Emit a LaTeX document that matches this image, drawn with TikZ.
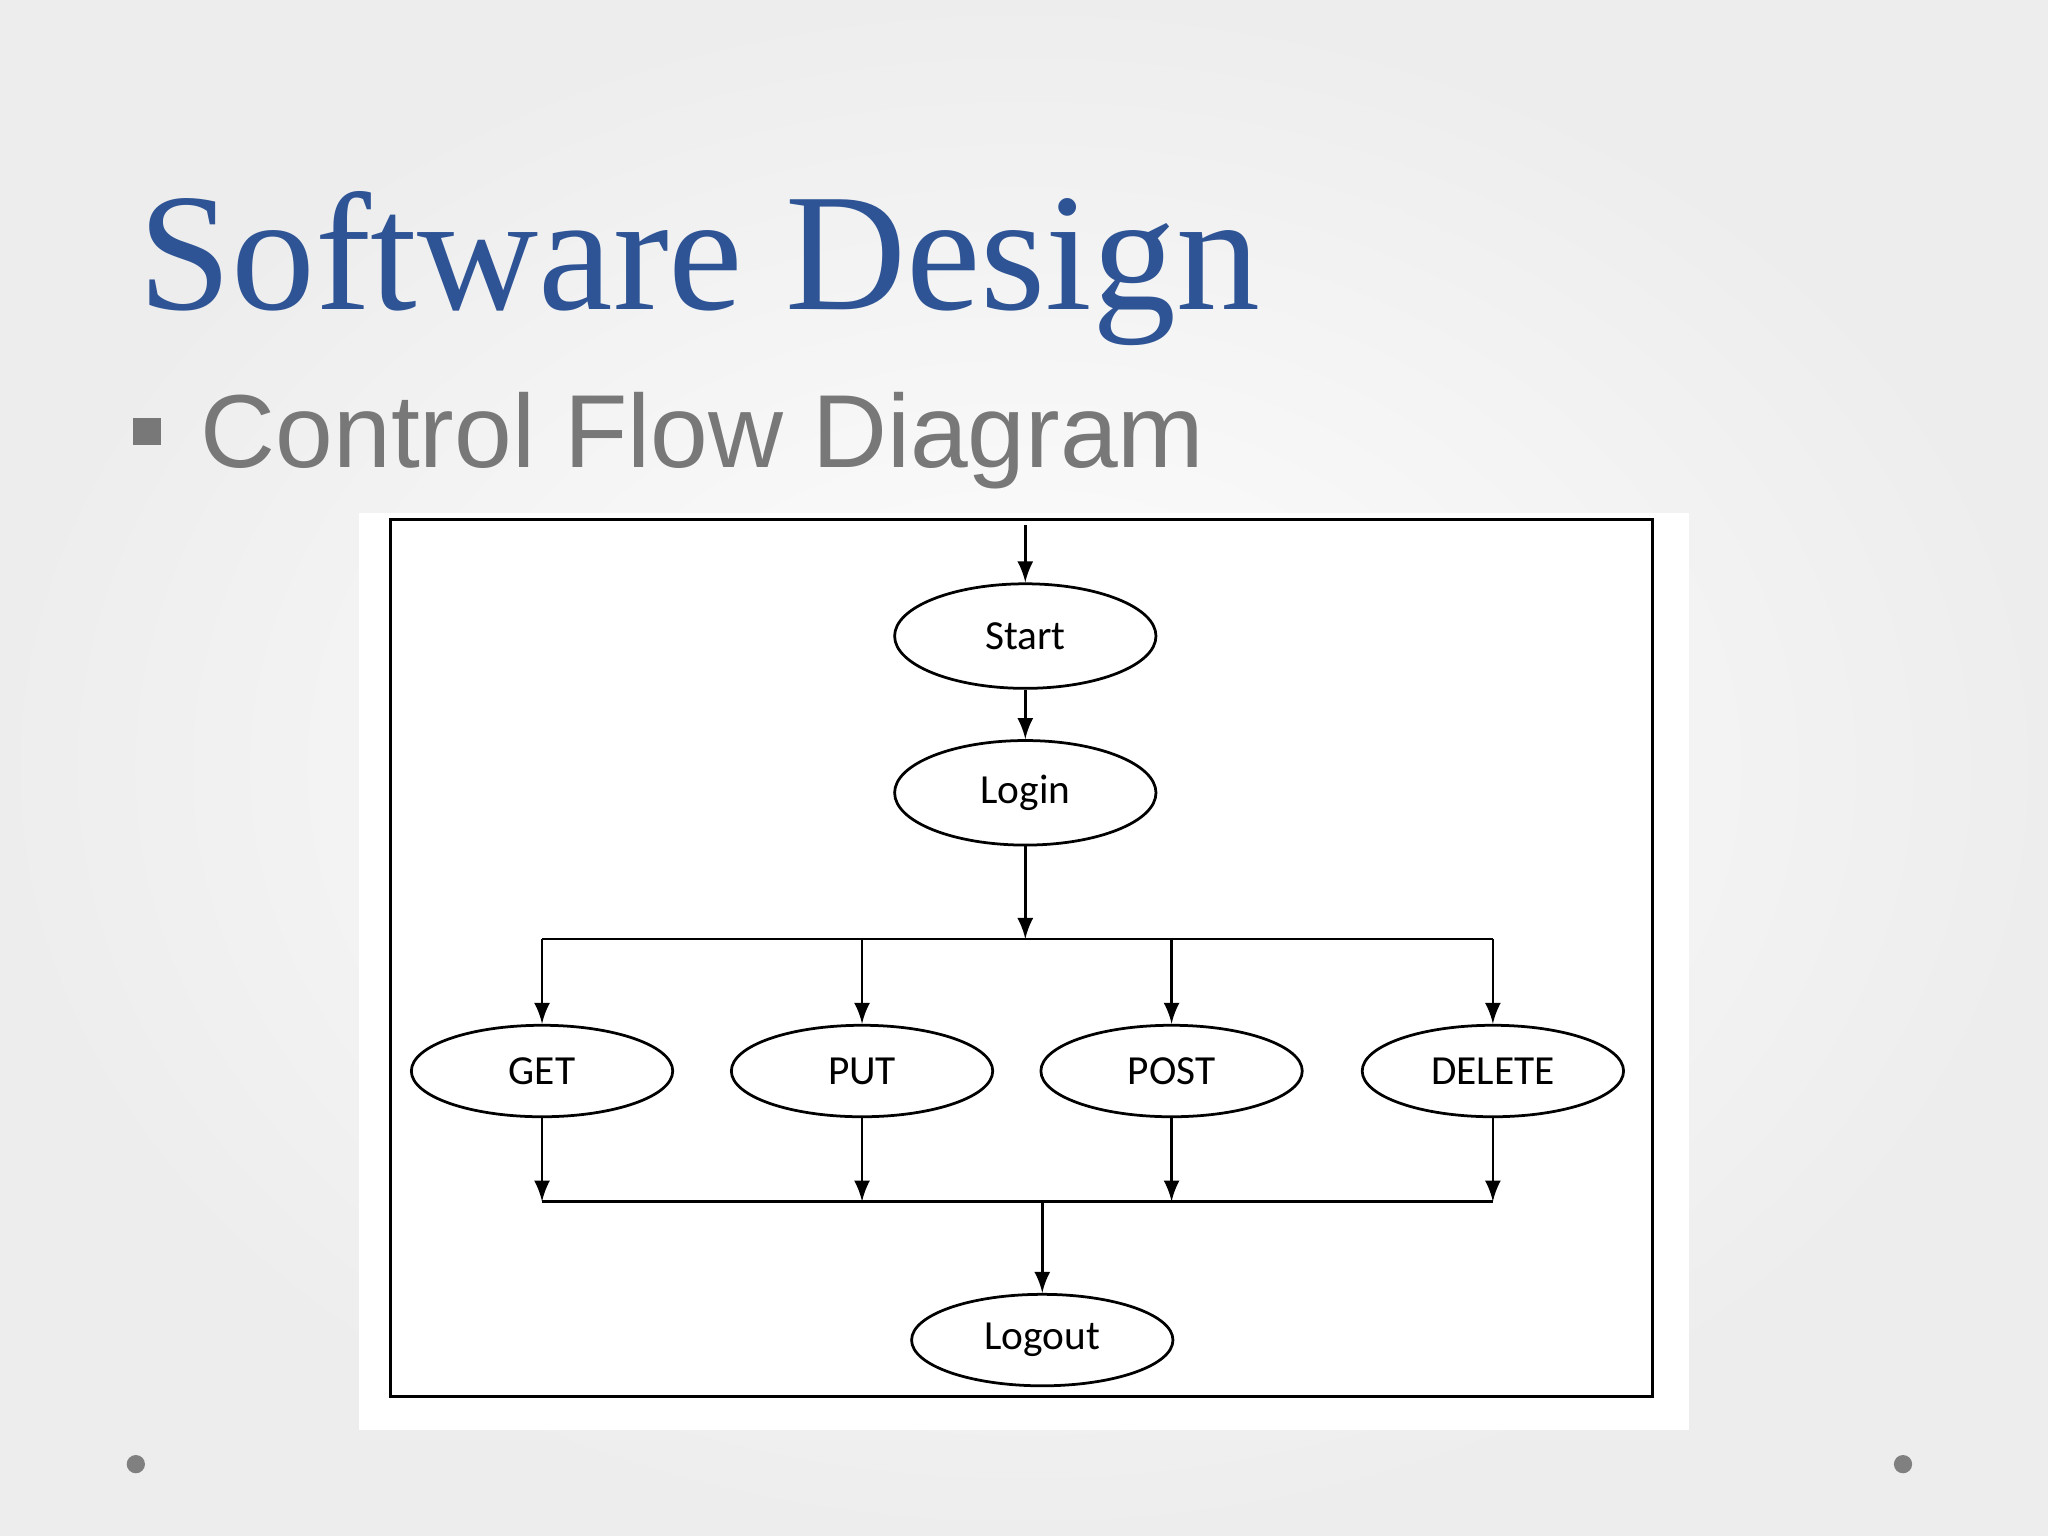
\documentclass[tikz,border=0pt]{standalone}
\usepackage{fontspec}
\setmainfont{Liberation Serif}
\newfontfamily\slidesans{Liberation Sans}
\newfontfamily\boxfont{Carlito}
\usetikzlibrary{shapes,arrows}
\definecolor{titleblue}{RGB}{46,84,150}
\definecolor{bodygray}{RGB}{120,120,120}
\begin{document}
\begin{tikzpicture}[x=0.01cm, y=-0.01cm]
    % 定义样式
    \tikzstyle{oval} = [ellipse, draw=black, semithick, minimum width=2cm, minimum height=0.7cm, font=\boxfont\fontsize{9}{10}\selectfont]
    \tikzstyle{arrow} = [semithick,->,>=latex]
    \tikzstyle{line} = [semithick]

    % 背景
    \useasboundingbox (0,0) rectangle (1568,1176);
    \shade[inner color=white, outer color=gray!14] (0,0) rectangle (1568,1176);
    \fill[white] (275,393) rectangle (1293,1095);
    \draw[line] (299,398) rectangle (1265,1069);

    % 标题
    \node[anchor=base west, inner sep=0, text=titleblue, font=\fontsize{36.5}{40}\selectfont] (title) at (105,237) {Software Design};
    \fill[bodygray] (102,320) rectangle (123,341);
    \node[anchor=base west, inner sep=0, text=bodygray, font=\slidesans\fontsize{22.6}{26}\selectfont] (sub) at (153,358) {Control Flow Diagram};
    \fill[gray] (104,1121) circle (7);
    \fill[gray] (1457,1121) circle (7);

    % 绘制流程图节点
    \node [oval, minimum height=0.8cm] (start) at (785,487) {Start};
    \node [oval, minimum height=0.8cm] (login) at (785,607) {Login};
    \node [oval] (get) at (415,820) {GET};
    \node [oval] (put) at (660,820) {PUT};
    \node [oval] (post) at (897,820) {POST};
    \node [oval] (delete) at (1143,820) {DELETE};
    \node [oval] (logout) at (798,1026) {Logout};
    \coordinate (in) at (785,402);
    \coordinate (split) at (785,719);
    \coordinate (merge) at (798,920);
    \foreach \n in {get,put,post,delete} {
        \coordinate (\n-top) at (\n.north |- split);
        \coordinate (\n-bot) at (\n.south |- merge);
    }

    % 绘制流程图箭头连接
    \draw [arrow] (in) -- (start);
    \draw [arrow] (start) -- (login);
    \draw [arrow] (login) -- (split);
    \draw [line] (get-top) -- (delete-top);
    \draw [line] (get-bot) -- (delete-bot);
    \foreach \n in {get,put,post,delete} {
        \draw [arrow] (\n-top) -- (\n);
        \draw [arrow] (\n) -- (\n-bot);
    }
    \draw [arrow] (merge) -- (logout);
\end{tikzpicture}
\end{document}
